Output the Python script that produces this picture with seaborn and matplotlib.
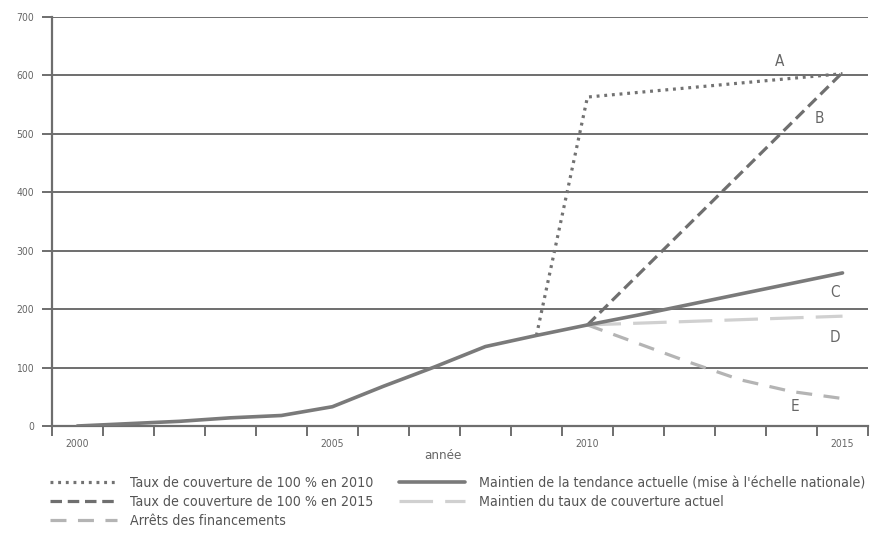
import matplotlib
matplotlib.use("Agg")
import matplotlib.pyplot as plt
from matplotlib import font_manager as fm
import seaborn as sns

sns.set_theme(style="white")

# choose a condensed face if available
names = {(f.name, str(f.stretch)) for f in fm.fontManager.ttflist}
condensed = False
if any(n == 'Liberation Sans Narrow' for n, s in names):
    plt.rcParams['font.family'] = ['Liberation Sans Narrow', 'DejaVu Sans']
    condensed = True
elif any(n == 'DejaVu Sans' and s != 'normal' for n, s in names):
    plt.rcParams['font.family'] = ['DejaVu Sans']
    plt.rcParams['font.stretch'] = 'condensed'
    condensed = True
else:
    plt.rcParams['font.family'] = ['DejaVu Sans']

# ---- data ----
years = list(range(2000, 2016))
tick_years = [2000, 2005, 2010, 2015]

# C: maintien de la tendance actuelle
c_years = list(range(2000, 2016))
c_vals = [0, 4, 8, 14, 18, 33, 68, 101, 136, 155, 173, 190, 208, 226, 244, 262]

# A: taux de couverture de 100 % en 2010
a_years = [2009, 2010, 2015]
a_vals = [155, 563, 603]

# B: taux de couverture de 100 % en 2015
b_years = [2010, 2015]
b_vals = [173, 605]

# D: maintien du taux de couverture actuel
d_years = [2010, 2015]
d_vals = [173, 188]

# E: arrêt des financements
e_years = [2010, 2011, 2012, 2013, 2014, 2015]
e_vals = [173, 141, 109, 79, 59, 47]

labels = {
    'A': "Taux de couverture de 100 % en 2010",
    'B': "Taux de couverture de 100 % en 2015",
    'C': "Maintien de la tendance actuelle (mise à l'échelle nationale)",
    'D': "Maintien du taux de couverture actuel",
    'E': "Arrêts des financements",
}
letter_pos = {'A': (2013.77, 623), 'B': (2014.55, 527), 'C': (2014.85, 228),
              'D': (2014.85, 152), 'E': (2014.06, 34)}

fig = plt.figure(figsize=(8.8, 5.4), dpi=100)
ax = fig.add_axes([0.0589, 0.2111, 0.9275, 0.7574])

grid_c = '#6e6e6e'
for v in range(100, 701, 100):
    ax.axhline(v, color=grid_c, lw=1.4, zorder=1)

lw = 2.3
sns.lineplot(x=a_years, y=a_vals, ax=ax, color='#727272', lw=lw, zorder=3)
lA = ax.lines[-1]; lA.set_dashes([0.9, 1.5])
sns.lineplot(x=b_years, y=b_vals, ax=ax, color='#6f6f6f', lw=lw, zorder=3)
lB = ax.lines[-1]; lB.set_dashes([3.6, 1.8])
sns.lineplot(x=e_years, y=e_vals, ax=ax, color='#b4b4b4', lw=lw, zorder=3)
lE = ax.lines[-1]; lE.set_dashes([5.0, 3.6])
sns.lineplot(x=d_years, y=d_vals, ax=ax, color='#d0d0d0', lw=lw, zorder=3)
lD = ax.lines[-1]; lD.set_dashes([10.5, 3.8])
sns.lineplot(x=c_years, y=c_vals, ax=ax, color='#7a7a7a', lw=2.6, zorder=4)
lC = ax.lines[-1]

fs_big = 11 if condensed else 10
for k, (x, y) in letter_pos.items():
    ax.text(x, y, k, fontsize=fs_big, color='#666666', ha='center', va='center')

ax.set_xlim(1999.5, 2015.5)
ax.set_ylim(0, 700)

ax.set_xticks([y - 0.5 for y in years] + [2015.5])
ax.set_xticklabels([])
ax.set_xticks(tick_years, minor=True)
ax.set_xticklabels([str(t) for t in tick_years], minor=True)
ax.tick_params(axis='x', which='major', direction='out', length=7, width=1.4,
               color=grid_c, bottom=True)
ax.tick_params(axis='x', which='minor', length=0, pad=9, labelsize=7.5,
               labelcolor='#666666')
ax.set_yticks(range(0, 701, 100))
ax.tick_params(axis='y', direction='out', length=7, width=1.4, color=grid_c,
               left=True, labelsize=7.5, labelcolor='#666666', pad=6)

for s in ['top', 'right']:
    ax.spines[s].set_visible(False)
for s in ['left', 'bottom']:
    ax.spines[s].set_color(grid_c)
    ax.spines[s].set_linewidth(1.6)

ax.set_xlabel('année', fontsize=9.5, color='#666666')
ax.xaxis.set_label_coords(0.479, -0.055)
ax.set_ylabel('')

handles = [lA, lB, lE, lC, lD]
labs = [labels['A'], labels['B'], labels['E'], labels['C'], labels['D']]
lfs = 10.2 if condensed else 9
leg = fig.legend(handles, labs, ncol=2, loc='upper left',
                 bbox_to_anchor=(0.0568, 0.118), frameon=False,
                 fontsize=lfs, handlelength=4.7, handletextpad=0.95,
                 columnspacing=1.8, labelspacing=0.33, borderpad=0,
                 borderaxespad=0)
for t in leg.get_texts():
    t.set_color('#555555')

fig.savefig('out.png', dpi=100)
